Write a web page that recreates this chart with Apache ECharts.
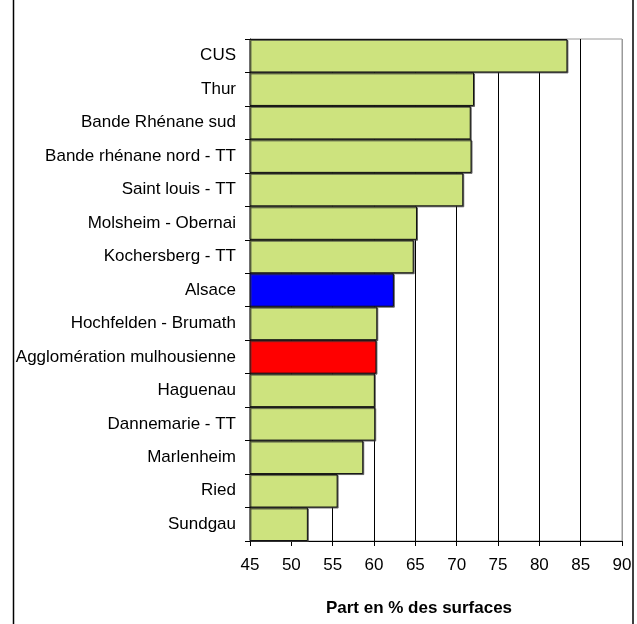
<!DOCTYPE html>
<html>
<head>
<meta charset="utf-8">
<script src="https://cdn.jsdelivr.net/npm/echarts@6/dist/echarts.min.js"></script>
<style>
  html, body { margin: 0; padding: 0; background: #fff; }
  #chart { width: 637px; height: 624px; }
</style>
</head>
<body>
<div id="chart"></div>
<script>
// Territories, top to bottom
const categories = [
  'CUS', 'Thur', 'Bande Rhénane sud', 'Bande rhénane nord - TT',
  'Saint louis - TT', 'Molsheim - Obernai', 'Kochersberg - TT', 'Alsace',
  'Hochfelden - Brumath', 'Agglomération mulhousienne', 'Haguenau',
  'Dannemarie - TT', 'Marlenheim', 'Ried', 'Sundgau'
];
// Share of surfaces (%)
const values = [83.4, 72.1, 71.7, 71.8, 70.8, 65.2, 64.8, 62.4, 60.4, 60.3, 60.1, 60.15, 58.7, 55.6, 52.0];
// Value axis ticks
const xTicks = [45, 50, 55, 60, 65, 70, 75, 80, 85, 90];
const axisTitle = 'Part en % des surfaces';

// Fill colours: regional reference and the Mulhouse agglomeration stand out
const highlight = { 'Alsace': '#0000ff', 'Agglomération mulhousienne': '#ff0000' };
const baseFill = '#cde37e';

const chart = echarts.init(document.getElementById('chart'), null, { renderer: 'canvas' });
const font = '"Liberation Sans", Arial, sans-serif';

// one gridline per tick, the last one (right edge) in grey
const splitColors = xTicks.map((t, i) => i === xTicks.length - 1 ? '#9a9a9a' : '#000000');

chart.setOption({
  animation: false,
  backgroundColor: '#ffffff',
  grid: {
    left: 250, right: 15, top: 39, bottom: 83,
    show: true, borderColor: '#9a9a9a', borderWidth: 1, backgroundColor: 'transparent'
  },
  xAxis: {
    type: 'value',
    min: xTicks[0], max: xTicks[xTicks.length - 1], interval: 5,
    axisLine: { show: true, lineStyle: { color: '#000', width: 1 } },
    axisTick: { show: true, length: 5, lineStyle: { color: '#000' } },
    axisLabel: { color: '#000', fontFamily: font, fontSize: 17, margin: 16 },
    splitLine: { show: true, lineStyle: { color: splitColors, width: 1 } }
  },
  yAxis: {
    type: 'category',
    data: categories,
    inverse: true,
    axisLine: { show: true, lineStyle: { color: '#000', width: 1 } },
    axisTick: { show: true, length: 5, alignWithLabel: false, lineStyle: { color: '#000' } },
    axisLabel: { color: '#000', fontFamily: font, fontSize: 17, margin: 14 },
    splitLine: { show: false }
  },
  series: [{
    type: 'bar',
    barCategoryGap: 0,
    data: categories.map((c, i) => ({
      value: values[i],
      itemStyle: { color: highlight[c] || baseFill }
    })),
    itemStyle: {
      borderColor: '#111', borderWidth: 1,
      shadowColor: 'rgba(60,60,60,0.7)', shadowOffsetX: 1, shadowOffsetY: 1, shadowBlur: 0
    }
  }],
  graphic: [
    { type: 'line', shape: { x1: 13.5, y1: 0, x2: 13.5, y2: 624 }, style: { stroke: '#000', lineWidth: 1.5 } },
    { type: 'line', shape: { x1: 633, y1: 0, x2: 633, y2: 624 }, style: { stroke: '#000', lineWidth: 1.5 } },
    {
      type: 'text', x: 419, y: 608,
      style: { text: axisTitle, fill: '#000', font: 'bold 17px ' + font, align: 'center', verticalAlign: 'middle' }
    }
  ]
});
</script>
</body>
</html>
